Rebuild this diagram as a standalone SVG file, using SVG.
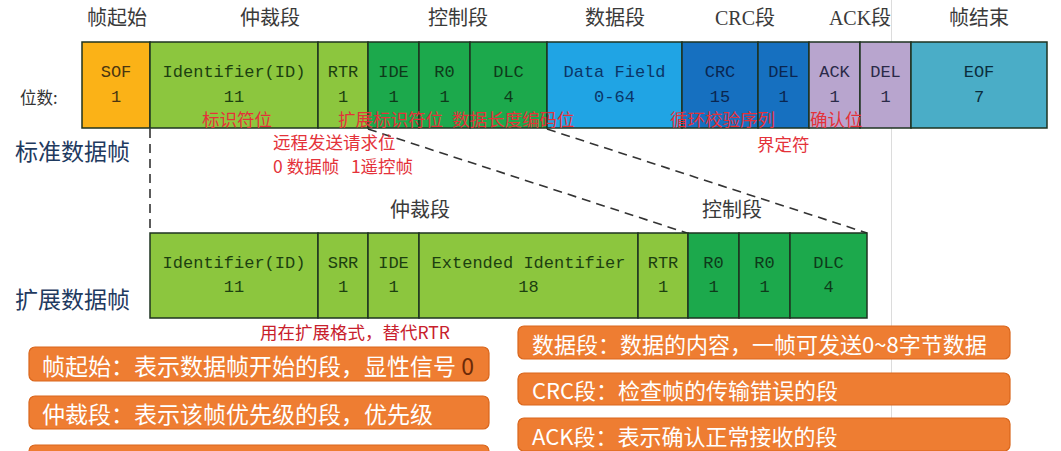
<svg xmlns="http://www.w3.org/2000/svg" width="1061" height="451" viewBox="0 0 1061 451">
<style>
.hdr{font-family:"Liberation Serif","Noto Sans CJK SC",serif;font-size:20px;fill:#3a3a3a;text-anchor:middle;dominant-baseline:central}
.cell{stroke:#1e3320;stroke-width:1.5}
.t{font-family:"Liberation Mono",monospace;font-size:17px;text-anchor:middle;dominant-baseline:central}
.sof{fill:#FBB217}.lg{fill:#8CC63E}.dg{fill:#1CA94C}.lb{fill:#20A4E4}.db{fill:#1670C0}.pu{fill:#B8A5CE}.te{fill:#4AADC7}
.tsof{fill:#4a3510}.tlg{fill:#1c3f10}.tdg{fill:#0e3a1a}.tlb{fill:#0b3668}.tdb{fill:#0a2650}.tpu{fill:#2a2a48}.tte{fill:#0b2c3c}
.red{font-family:"Noto Sans CJK SC",sans-serif;font-size:17.5px;fill:#E4323A;dominant-baseline:central}
.big{font-family:"Noto Sans CJK SC",sans-serif;font-size:23px;fill:#1F3A5F;dominant-baseline:central}
.ob{fill:#EE7D32;stroke:#D9661C;stroke-width:1.2}
.ot{font-family:"Noto Sans CJK SC",sans-serif;fill:#ffffff;dominant-baseline:central}
.dash{stroke:#333;stroke-width:1.6;stroke-dasharray:9 6;fill:none}
</style>
<rect width="1061" height="451" fill="#ffffff"/>
<line x1="891.5" y1="0" x2="891.5" y2="451" stroke="#dcdcdc" stroke-width="1"/>

<g id="headers">
<text class="hdr" x="117" y="18">帧起始</text>
<text class="hdr" x="270" y="18">仲裁段</text>
<text class="hdr" x="458" y="18">控制段</text>
<text class="hdr" x="615" y="18">数据段</text>
<text class="hdr" x="745" y="18">CRC段</text>
<text class="hdr" x="860" y="18">ACK段</text>
<text class="hdr" x="979" y="18">帧结束</text>
</g>

<g id="labels">
<text x="20" y="97" font-family="'Noto Sans CJK SC',sans-serif" font-size="16.5" fill="#333" dominant-baseline="central">位数:</text>
<text class="big" x="15" y="150">标准数据帧</text>
<text class="big" x="15" y="298">扩展数据帧</text>
</g>

<g id="connectors">
<line class="dash" x1="150" y1="129" x2="150" y2="233"/>
<line class="dash" x1="368" y1="129" x2="687" y2="233"/>
<line class="dash" x1="547" y1="129" x2="867" y2="233"/>
</g>

<g id="std-frame">
<g id="std-sof"><rect class="cell sof" x="82" y="42" width="68" height="86"/><text class="t tsof" x="116" y="72">SOF</text><text class="t tsof" x="116" y="97">1</text></g>
<g id="std-id"><rect class="cell lg" x="150" y="42" width="168" height="86"/><text class="t tlg" x="234" y="72">Identifier(ID)</text><text class="t tlg" x="234" y="97">11</text></g>
<g id="std-rtr"><rect class="cell lg" x="318" y="42" width="50" height="86"/><text class="t tlg" x="343" y="72">RTR</text><text class="t tlg" x="343" y="97">1</text></g>
<g id="std-ide"><rect class="cell dg" x="368" y="42" width="51" height="86"/><text class="t tdg" x="393.5" y="72">IDE</text><text class="t tdg" x="393.5" y="97">1</text></g>
<g id="std-r0"><rect class="cell dg" x="419" y="42" width="51" height="86"/><text class="t tdg" x="444.5" y="72">R0</text><text class="t tdg" x="444.5" y="97">1</text></g>
<g id="std-dlc"><rect class="cell dg" x="470" y="42" width="77" height="86"/><text class="t tdg" x="508.5" y="72">DLC</text><text class="t tdg" x="508.5" y="97">4</text></g>
<g id="std-data"><rect class="cell lb" x="547" y="42" width="135" height="86"/><text class="t tlb" x="614.5" y="72">Data Field</text><text class="t tlb" x="614.5" y="97">0-64</text></g>
<g id="std-crc"><rect class="cell db" x="682" y="42" width="76" height="86"/><text class="t tdb" x="720" y="72">CRC</text><text class="t tdb" x="720" y="97">15</text></g>
<g id="std-crcdel"><rect class="cell db" x="758" y="42" width="51" height="86"/><text class="t tdb" x="783.5" y="72">DEL</text><text class="t tdb" x="783.5" y="97">1</text></g>
<g id="std-ack"><rect class="cell pu" x="809" y="42" width="51" height="86"/><text class="t tpu" x="834.5" y="72">ACK</text><text class="t tpu" x="834.5" y="97">1</text></g>
<g id="std-ackdel"><rect class="cell pu" x="860" y="42" width="51" height="86"/><text class="t tpu" x="885.5" y="72">DEL</text><text class="t tpu" x="885.5" y="97">1</text></g>
<g id="std-eof"><rect class="cell te" x="911" y="42" width="136" height="86"/><text class="t tte" x="979" y="72">EOF</text><text class="t tte" x="979" y="97">7</text></g>
</g>

<g id="std-notes">
<text class="red" x="202" y="118">标识符位</text>
<text class="red" x="338" y="118">扩展标识符位</text>
<text class="red" x="452" y="118">数据长度编码位</text>
<text class="red" x="670" y="118">循环校验序列</text>
<text class="red" x="810" y="118">确认位</text>
<text class="red" x="757" y="143">界定符</text>
<text class="red" x="273" y="141" font-size="16.5">远程发送请求位</text>
<text class="red" x="273" y="165" font-size="16.5" xml:space="preserve">0 数据帧   1遥控帧</text>
</g>

<g id="ext-headers">
<text class="hdr" x="420" y="210">仲裁段</text>
<text class="hdr" x="732" y="210">控制段</text>
</g>

<g id="ext-frame">
<g id="ext-id"><rect class="cell lg" x="150" y="233" width="168" height="85"/><text class="t tlg" x="234" y="263">Identifier(ID)</text><text class="t tlg" x="234" y="287">11</text></g>
<g id="ext-srr"><rect class="cell lg" x="318" y="233" width="50" height="85"/><text class="t tlg" x="343" y="263">SRR</text><text class="t tlg" x="343" y="287">1</text></g>
<g id="ext-ide"><rect class="cell lg" x="368" y="233" width="51" height="85"/><text class="t tlg" x="393.5" y="263">IDE</text><text class="t tlg" x="393.5" y="287">1</text></g>
<g id="ext-eid"><rect class="cell lg" x="419" y="233" width="219" height="85"/><text class="t tlg" x="528.5" y="263">Extended Identifier</text><text class="t tlg" x="528.5" y="287">18</text></g>
<g id="ext-rtr"><rect class="cell lg" x="638" y="233" width="50" height="85"/><text class="t tlg" x="663" y="263">RTR</text><text class="t tlg" x="663" y="287">1</text></g>
<g id="ext-r0a"><rect class="cell dg" x="688" y="233" width="51" height="85"/><text class="t tdg" x="713.5" y="263">R0</text><text class="t tdg" x="713.5" y="287">1</text></g>
<g id="ext-r0b"><rect class="cell dg" x="739" y="233" width="51" height="85"/><text class="t tdg" x="764.5" y="263">R0</text><text class="t tdg" x="764.5" y="287">1</text></g>
<g id="ext-dlc"><rect class="cell dg" x="790" y="233" width="77" height="85"/><text class="t tdg" x="828.5" y="263">DLC</text><text class="t tdg" x="828.5" y="287">4</text></g>
</g>

<g id="ext-note">
<text class="red" x="260" y="331" style="fill:#C8202C">用在扩展格式，替代RTR</text>
</g>

<g id="box-sof"><rect class="ob" x="29" y="347" width="460" height="34" rx="6"/><text class="ot" x="42" y="364.5" font-size="23">帧起始：表示数据帧开始的段，显性信号 <tspan fill="#6B2A08">0</tspan></text></g>
<g id="box-arb"><rect class="ob" x="29" y="396" width="460" height="33" rx="6"/><text class="ot" x="42" y="412.5" font-size="23">仲裁段：表示该帧优先级的段，优先级</text></g>
<g id="box-ctl"><rect class="ob" x="29" y="445" width="460" height="34" rx="6"/></g>
<g id="box-data"><rect class="ob" x="518" y="326" width="492" height="33" rx="6"/><text class="ot" x="532" y="342.5" font-size="22">数据段：数据的内容，一帧可发送0~8字节数据</text></g>
<g id="box-crc"><rect class="ob" x="518" y="373" width="492" height="32" rx="6"/><text class="ot" x="532" y="389" font-size="22">CRC段：检查帧的传输错误的段</text></g>
<g id="box-ack"><rect class="ob" x="518" y="418" width="492" height="33" rx="6"/><text class="ot" x="532" y="435" font-size="22">ACK段：表示确认正常接收的段</text></g>
</svg>
